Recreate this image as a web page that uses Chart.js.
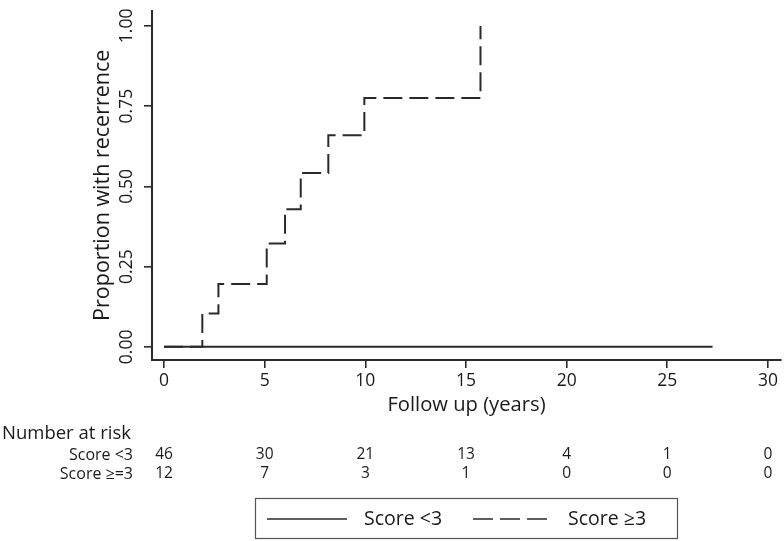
<!DOCTYPE html>
<html>
<head>
<meta charset="utf-8">
<script src="https://cdn.jsdelivr.net/npm/chart.js@4.4.1/dist/chart.umd.min.js"></script>
<style>
  html, body { margin: 0; padding: 0; background: #ffffff; }
  #wrap { width: 784px; height: 541px; }
</style>
</head>
<body>
<div id="wrap"><canvas id="c" width="784" height="541"></canvas></div>
<script>
// ---- data ----
const seriesLabels = ['Score <3', 'Score \u22653'];
const lowTimes = [0, 27.25];
const lowValues = [0, 0];
const highTimes = [0, 1.90, 2.70, 5.10, 6.01, 6.79, 8.16, 9.95, 15.72];
const highValues = [0, 0.104, 0.196, 0.322, 0.429, 0.542, 0.659, 0.775, 1.0];
const xTickValues = [0, 5, 10, 15, 20, 25, 30];
const yTickValues = [0, 0.25, 0.5, 0.75, 1.0];
const yTickLabels = ['0.00', '0.25', '0.50', '0.75', '1.00'];
const riskTitle = 'Number at risk';
const riskRowLabels = ['Score <3', 'Score \u2265=3'];
const riskTimes = [0, 5, 10, 15, 20, 25, 30];
const riskLow = [46, 30, 21, 13, 4, 1, 0];
const riskHigh = [12, 7, 3, 1, 0, 0, 0];
const xTitle = 'Follow up (years)';
const yTitle = 'Proportion with recerrence';

// ---- styling ----
const FONT = "'Open Sans', 'DejaVu Sans', sans-serif";
const INK = '#1a1a1a';
const LINE = '#2a2a2a';
const DASH = [19, 7];

const toPts = (xs, ys) => xs.map((x, i) => ({ x: x, y: ys[i] }));

const riskAndLegend = {
  id: 'riskAndLegend',
  afterDraw(chart) {
    const ctx = chart.ctx;
    const xs = chart.scales.x;
    ctx.save();
    ctx.fillStyle = INK;
    ctx.textBaseline = 'middle';
    // number at risk title
    ctx.font = "18.5px " + FONT;
    ctx.textAlign = 'left';
    ctx.fillText(riskTitle, 2, 434);
    // row labels
    ctx.font = "16px " + FONT;
    ctx.textAlign = 'right';
    ctx.fillText(riskRowLabels[0], 133, 455);
    ctx.fillText(riskRowLabels[1], 133, 474);
    // values
    ctx.font = "15.5px " + FONT;
    ctx.textAlign = 'center';
    riskTimes.forEach((t, i) => {
      const px = xs.getPixelForValue(t);
      ctx.fillText(String(riskLow[i]), px, 455);
      ctx.fillText(String(riskHigh[i]), px, 474);
    });
    // legend box
    ctx.strokeStyle = '#555555';
    ctx.lineWidth = 1.2;
    ctx.strokeRect(255.5, 498.5, 422, 40);
    const ly = 519;
    ctx.strokeStyle = LINE;
    ctx.lineWidth = 1.6;
    ctx.setLineDash([]);
    ctx.beginPath(); ctx.moveTo(267, ly); ctx.lineTo(347, ly); ctx.stroke();
    ctx.setLineDash([20, 7]);
    ctx.beginPath(); ctx.moveTo(473, ly); ctx.lineTo(550, ly); ctx.stroke();
    ctx.setLineDash([]);
    ctx.font = "19.5px " + FONT;
    ctx.textAlign = 'left';
    ctx.fillStyle = INK;
    ctx.fillText(chart.data.datasets[0].label, 364, ly);
    ctx.fillText(chart.data.datasets[1].label, 568, ly);
    ctx.restore();
  }
};

new Chart(document.getElementById('c'), {
  type: 'line',
  data: {
    datasets: [
      {
        label: seriesLabels[0],
        data: toPts(lowTimes, lowValues),
        borderColor: LINE,
        borderWidth: 2,
        pointRadius: 0,
        fill: false,
        stepped: 'before'
      },
      {
        label: seriesLabels[1],
        data: toPts(highTimes, highValues),
        borderColor: LINE,
        borderWidth: 2,
        borderDash: DASH,
        pointRadius: 0,
        fill: false,
        stepped: 'before'
      }
    ]
  },
  options: {
    responsive: false,
    animation: false,
    devicePixelRatio: 1,
    layout: { padding: { left: 0, right: 3, top: 5, bottom: 0 } },
    plugins: {
      legend: { display: false },
      tooltip: { enabled: false }
    },
    scales: {
      x: {
        type: 'linear',
        min: -0.6,
        max: 30.65,
        afterBuildTicks: (s) => { s.ticks = xTickValues.map(v => ({ value: v })); },
        afterFit: (s) => { s.height = 181; },
        ticks: {
          color: INK,
          font: { family: FONT, size: 17.5 },
          padding: 3,
          maxRotation: 0,
          minRotation: 0,
          callback: (v) => String(v)
        },
        grid: { display: true, drawOnChartArea: false, drawTicks: true, tickLength: 8, color: LINE, lineWidth: 1.6 },
        border: { display: true, color: LINE, width: 2 },
        title: {
          display: true,
          text: xTitle,
          color: INK,
          font: { family: FONT, size: 20.2 },
          padding: { top: 0, bottom: 124 }
        }
      },
      y: {
        type: 'linear',
        min: -0.041,
        max: 1.048,
        afterBuildTicks: (s) => { s.ticks = yTickValues.map(v => ({ value: v })); },
        afterFit: (s) => { s.width = 152; },
        ticks: {
          color: INK,
          font: { family: FONT, size: 17.5 },
          padding: 0,
          minRotation: 90,
          maxRotation: 90,
          crossAlign: 'center',
          callback: (v) => yTickLabels[yTickValues.indexOf(v)]
        },
        grid: { display: true, drawOnChartArea: false, drawTicks: true, tickLength: 8, color: LINE, lineWidth: 1.6 },
        border: { display: true, color: LINE, width: 2 },
        title: {
          display: true,
          text: yTitle,
          color: INK,
          font: { family: FONT, size: 21.5 },
          padding: { top: 90, bottom: 0 }
        }
      }
    }
  },
  plugins: [riskAndLegend]
});
</script>
</body>
</html>
